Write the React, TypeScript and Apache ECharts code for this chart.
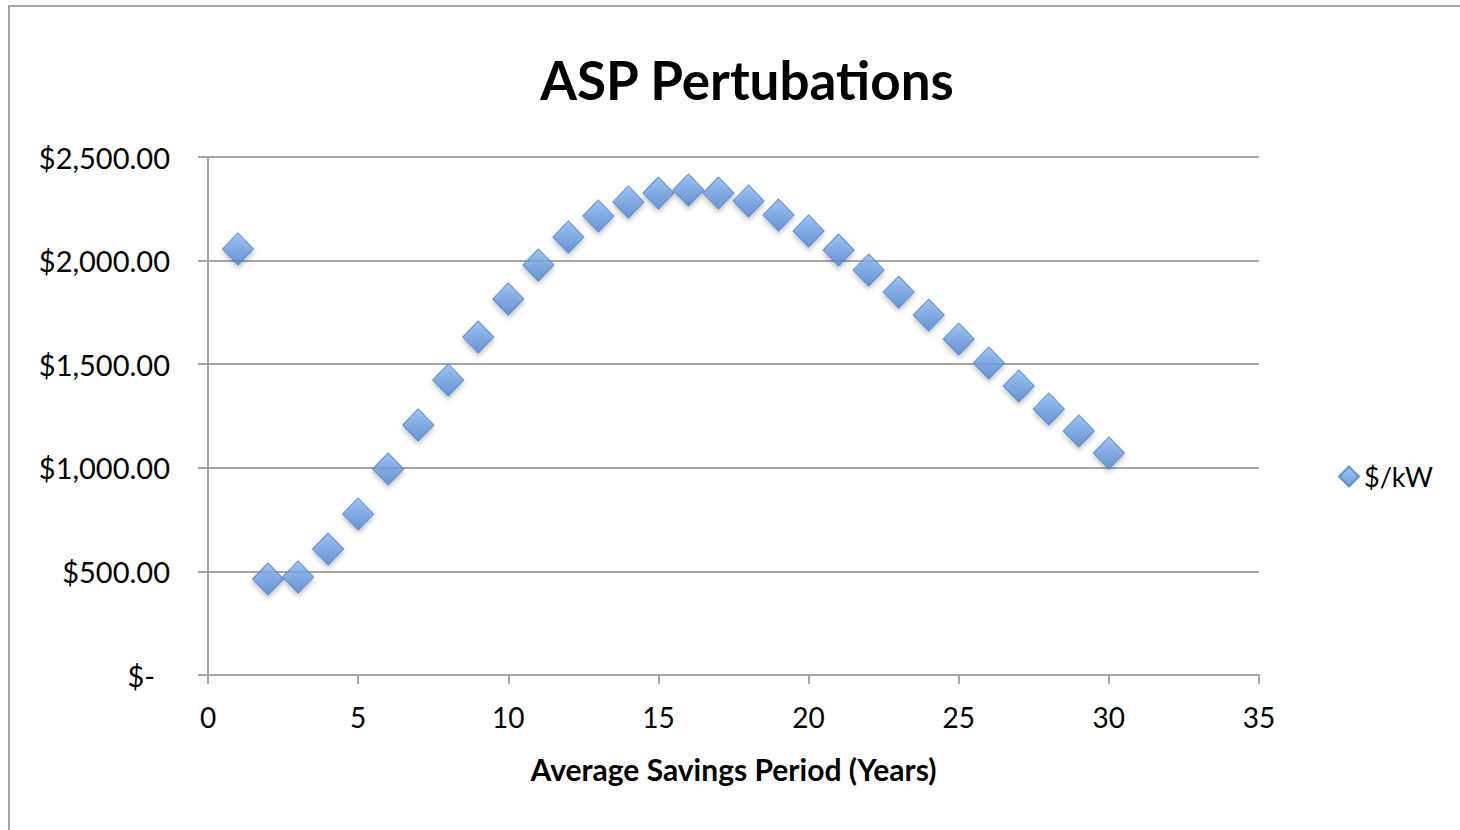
import React, { useEffect, useRef } from "react";
import * as echarts from "echarts";

const years = [1, 2, 3, 4, 5, 6, 7, 8, 9, 10, 11, 12, 13, 14, 15, 16, 17, 18, 19, 20, 21, 22, 23, 24, 25, 26, 27, 28, 29, 30];
const pricePerKW = [2056, 463, 473, 608, 777, 994, 1207, 1424, 1631, 1815, 1979, 2114, 2215, 2283, 2326, 2341, 2326, 2288, 2220, 2143, 2051, 1955, 1848, 1737, 1622, 1506, 1395, 1284, 1178, 1071];
const xTicks = { min: 0, max: 35, interval: 5 };
const yTicks = { min: 0, max: 2500, interval: 500 };

const FONT = "Lato, 'Open Sans', sans-serif";

export default function App() {
  const ref = useRef<HTMLDivElement>(null);
  useEffect(() => {
    if (!ref.current) return;
    const chart = echarts.init(ref.current, undefined, { renderer: "svg" });
    const fill = new echarts.graphic.LinearGradient(0, 0, 0, 1, [
      { offset: 0, color: "#8cb8f0" },
      { offset: 1, color: "#4f86d4" },
    ]);
    chart.setOption({
      animation: false,
      backgroundColor: "#ffffff",
      textStyle: { fontFamily: FONT },
      title: {
        text: "ASP Pertubations",
        left: 742,
        top: 48,
        textAlign: "center",
        textStyle: { fontSize: 53, fontWeight: "bold", color: "#000", fontFamily: FONT },
      },
      graphic: [
        {
          type: "rect",
          shape: { x: 9, y: 6, width: 1470, height: 840 },
          style: { fill: "none", stroke: "#a6a6a6", lineWidth: 2 },
          silent: true,
        },
      ],
      legend: {
        show: true,
        left: 1333,
        top: 458,
        itemWidth: 20,
        itemHeight: 20,
        itemGap: 3,
        textStyle: { fontSize: 27, color: "#000", fontFamily: FONT },
        data: [{ name: "$/kW", icon: "diamond" }],
      },
      grid: { left: 208, right: 201, top: 157, bottom: 155, containLabel: false },
      xAxis: {
        type: "value",
        min: xTicks.min,
        max: xTicks.max,
        interval: xTicks.interval,
        name: "Average Savings Period (Years)",
        nameLocation: "middle",
        nameGap: 79,
        nameTextStyle: { fontSize: 30, fontWeight: "bold", color: "#000", fontFamily: FONT },
        axisLine: { show: true, lineStyle: { color: "#a6a6a6", width: 2 } },
        axisTick: { show: true, length: 9, lineStyle: { color: "#a6a6a6", width: 2 } },
        axisLabel: { fontSize: 28, color: "#000", margin: 28, fontFamily: FONT },
        splitLine: { show: false },
      },
      yAxis: {
        type: "value",
        min: yTicks.min,
        max: yTicks.max,
        interval: yTicks.interval,
        axisLine: { show: true, lineStyle: { color: "#a6a6a6", width: 2 } },
        axisTick: { show: true, length: 10, lineStyle: { color: "#a6a6a6", width: 2 } },
        axisLabel: {
          fontSize: 29,
          color: "#000",
          margin: 38,
          fontFamily: FONT,
          formatter: (v: number) =>
            v === 0
              ? "{z|$-}"
              : "$" + v.toLocaleString("en-US", { minimumFractionDigits: 2, maximumFractionDigits: 2 }),
          rich: { z: { fontSize: 29, color: "#000", fontFamily: FONT, padding: [0, 15, 0, 0] } },
        },
        splitLine: { show: true, lineStyle: { color: "#a6a6a6", width: 2 } },
      },
      series: [
        {
          name: "$/kW",
          type: "scatter",
          symbol: "diamond",
          symbolSize: [31, 32],
          data: years.map((x, i) => [x, pricePerKW[i]]),
          itemStyle: {
            color: fill,
            borderColor: "#4a80cc",
            borderWidth: 1,
            shadowBlur: 5,
            shadowOffsetY: 3,
            shadowColor: "rgba(0,0,0,0.3)",
          },
        },
      ],
    });
    return () => chart.dispose();
  }, []);
  return (
    <div
      ref={ref}
      style={{ position: "absolute", left: 0, top: 0, width: 1460, height: 830 }}
    />
  );
}
